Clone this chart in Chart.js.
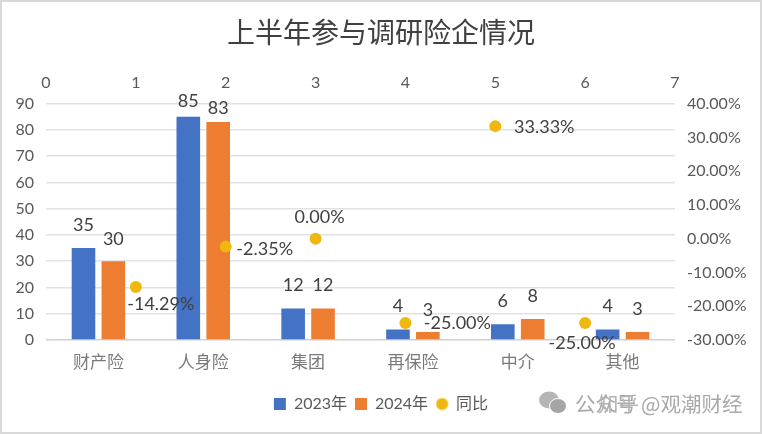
<!DOCTYPE html>
<html lang="zh">
<head>
<meta charset="utf-8">
<title>上半年参与调研险企情况</title>
<script src="https://cdn.jsdelivr.net/npm/chart.js@4"></script>
<style>
  html, body { margin: 0; padding: 0; background: #fff; }
  #wrap { position: relative; width: 762px; height: 434px; overflow: hidden; }
  #frame { position: absolute; inset: 0; border: 2px solid #d9d9d9; box-sizing: border-box; pointer-events: none; }
  .mark { position: absolute; font-family: "Noto Sans CJK SC", sans-serif; color: #a9a9a9; white-space: nowrap; }
  #markIcon { position: absolute; left: 539px; top: 391px; }
</style>
</head>
<body>
<div id="wrap">
  <canvas id="chart" width="762" height="434"></canvas>
  <svg id="markIcon" width="28" height="24" viewBox="0 0 28 24">
    <ellipse cx="10" cy="9" rx="10" ry="8.5" fill="#b5b5b5"/>
    <ellipse cx="19" cy="15" rx="8.5" ry="7.5" fill="#a5a5a5" stroke="#fff"/>
  </svg>
  <div class="mark" style="left:575px;top:388px;font-size:20.5px">公众号 @观潮财经</div>
  <div class="mark" style="left:598px;top:388px;font-size:20.5px;color:#b4b4b4">知乎</div>
  <div id="frame"></div>
</div>
<script>
const titulo = '上半年参与调研险企情况';
const categorias = ['财产险', '人身险', '集团', '再保险', '中介', '其他'];
const valores2023 = [35, 85, 12, 4, 6, 4];
const valores2024 = [30, 83, 12, 3, 8, 3];
const posicaoTop = [1, 2, 3, 4, 5, 6];
const yoy = [-14.29, -2.35, 0, -25, 33.33, -25];

// Distance of each label from its mark
const recuo2023 = [23, 16, 23, 23, 23, 23];
const recuo2024 = [22, 14, 23, 22, 23, 23];
const recuoYoy = [[25, 17], [39, 3], [4, -21], [52, 0], [49, 1], [-3, 20]];

const fonteLatina = 'Lato, "Noto Sans CJK SC", sans-serif';
const corTexto = '#404040';
const corTick = '#595959';
const amarelo = '#f0b70e';

// Legend circle is smaller than what pointStyle 'circle' gives
const bolinha = document.createElement('canvas');
bolinha.width = 13;
bolinha.height = 13;
const ctxB = bolinha.getContext('2d');
ctxB.fillStyle = amarelo;
ctxB.arc(6.5, 6.5, 6, 0, Math.PI * 2);
ctxB.fill();

const rotulos = {
  id: 'rotulos',
  afterDatasetsDraw(chart) {
    const ctx = chart.ctx;
    ctx.save();
    ctx.font = '18px ' + fonteLatina;
    ctx.fillStyle = corTexto;
    ctx.textAlign = 'center';
    ctx.textBaseline = 'middle';
    chart.getDatasetMeta(1).data.forEach((el, i) => {
      ctx.fillText(valores2023[i], el.x, el.y - recuo2023[i]);
    });
    chart.getDatasetMeta(2).data.forEach((el, i) => {
      ctx.fillText(valores2024[i], el.x, el.y - recuo2024[i]);
    });
    chart.getDatasetMeta(0).data.forEach((el, i) => {
      ctx.fillText(yoy[i].toFixed(2) + '%', el.x + recuoYoy[i][0], el.y + recuoYoy[i][1]);
    });
    ctx.restore();
  }
};

new Chart(document.getElementById('chart'), {
  type: 'bar',
  plugins: [rotulos],
  data: {
    labels: categorias,
    // Chart.js reserves bar slots per x axis, so with x2 listed first the two bars take the middle slots
    datasets: [
      {
        type: 'scatter',
        label: '同比',
        data: posicaoTop.map((x, i) => ({ x: x, y: yoy[i] })),
        xAxisID: 'x2',
        yAxisID: 'y2',
        backgroundColor: amarelo,
        borderWidth: 0,
        pointRadius: 6,
        pointStyle: 'circle'
      },
      {
        label: '2023年',
        data: valores2023,
        xAxisID: 'x',
        backgroundColor: '#4472c4',
        pointStyle: 'rect',
        categoryPercentage: 1.14,
        barPercentage: 0.79
      },
      {
        label: '2024年',
        data: valores2024,
        xAxisID: 'x',
        backgroundColor: '#ed7d31',
        pointStyle: 'rect',
        categoryPercentage: 1.14,
        barPercentage: 0.79
      }
    ]
  },
  options: {
    responsive: false,
    animation: false,
    layout: { padding: { bottom: 12 } },
    plugins: {
      tooltip: { enabled: false },
      title: {
        display: true,
        text: titulo,
        color: corTexto,
        font: { family: '"Noto Sans CJK SC", sans-serif', size: 28, weight: 'normal' },
        padding: { top: 16, bottom: 0 }
      },
      legend: {
        position: 'bottom',
        labels: {
          usePointStyle: true,
          boxWidth: 12,
          boxHeight: 12,
          padding: 8,
          color: corTick,
          font: { family: fonteLatina, size: 16 },
          // keep the scatter last in the legend
          sort: (a, b) => ((a.datasetIndex + 2) % 3) - ((b.datasetIndex + 2) % 3),
          generateLabels(chart) {
            const itens = Chart.defaults.plugins.legend.labels.generateLabels(chart);
            itens.forEach((it) => {
              if (it.datasetIndex === 0) it.pointStyle = bolinha;
            });
            return itens;
          }
        }
      }
    },
    scales: {
      x: {
        grid: { display: false },
        border: { display: false },
        ticks: { color: '#7a7a7a', padding: 3, font: { family: '"Noto Sans CJK SC", sans-serif', size: 17 } },
        afterFit(scale) { scale.height = 48; }
      },
      x2: {
        type: 'linear',
        position: 'top',
        offset: false,
        min: 0,
        max: 7,
        grid: { display: false, drawTicks: false },
        border: { display: false },
        ticks: { stepSize: 1, color: corTick, padding: 11, maxRotation: 0, font: { family: fonteLatina, size: 16 } },
        afterFit(scale) { scale.height = 104 - 50; }
      },
      y: {
        min: 0,
        max: 90,
        grid: {
          drawTicks: false,
          lineWidth: 1.6,
          color: (c) => (c.tick.value === 0 ? '#d0d0d0' : '#e2e2e2')
        },
        border: { display: false },
        ticks: { stepSize: 10, color: corTick, padding: 12, font: { family: fonteLatina, size: 16 } },
        afterFit(scale) { scale.width = 46; }
      },
      y2: {
        position: 'right',
        min: -30,
        max: 40,
        grid: { display: false, drawTicks: false },
        border: { display: false },
        ticks: {
          stepSize: 10,
          color: corTick,
          padding: 12,
          font: { family: fonteLatina, size: 16 },
          callback: (v) => v.toFixed(2) + '%'
        },
        afterFit(scale) { scale.width = 87; }
      }
    }
  }
});
</script>
</body>
</html>
